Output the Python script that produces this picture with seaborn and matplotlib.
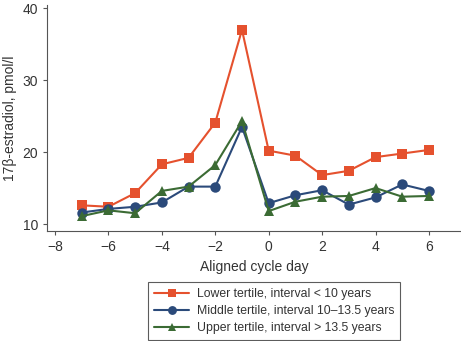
import numpy as np
import pandas as pd
import matplotlib
matplotlib.use("Agg")
import matplotlib.pyplot as plt
import seaborn as sns

days = [-7, -6, -5, -4, -3, -2, -1, 0, 1, 2, 3, 4, 5, 6]
lower = [12.6, 12.4, 14.3, 18.3, 19.2, 24.1, 37.0, 20.2, 19.5, 16.8, 17.4, 19.3, 19.8, 20.3]
middle = [11.6, 12.1, 12.4, 13.0, 15.2, 15.2, 23.5, 12.9, 14.0, 14.7, 12.7, 13.7, 15.5, 14.6]
upper = [11.1, 11.9, 11.5, 14.6, 15.2, 18.2, 24.3, 11.8, 13.1, 13.8, 13.9, 15.0, 13.8, 13.9]
labels = ["Lower tertile, interval < 10 years",
          "Middle tertile, interval 10\u201313.5 years",
          "Upper tertile, interval > 13.5 years"]
xticks = [-8, -6, -4, -2, 0, 2, 4, 6]
yticks = [10, 20, 30, 40]

sns.set_style("ticks")
plt.rcParams['font.family'] = ['Liberation Sans', 'DejaVu Sans']

df = pd.DataFrame({
    "day": days * 3,
    "value": lower + middle + upper,
    "group": [labels[0]] * len(days) + [labels[1]] * len(days) + [labels[2]] * len(days),
})

fig = plt.figure(figsize=(4.61, 3.41), dpi=100)
ax = fig.add_axes([47 / 461, 1 - 231 / 341, 414 / 461, 226 / 341])

colors = ["#E5512E", "#2B4A7A", "#3B6B34"]
markers = ["s", "o", "^"]
sizes = [6.5, 7.5, 7.5]
for lab, c, m, ms in zip(labels, colors, markers, sizes):
    sub = df[df["group"] == lab]
    sns.lineplot(data=sub, x="day", y="value", ax=ax, color=c, marker=m,
                 markersize=ms, markeredgewidth=0, linewidth=1.5, label=lab)

ax.set_xlim(-8.3, 7.2)
ax.set_ylim(9.03, 40.45)
ax.set_xticks(xticks)
ax.set_xticklabels([str(t).replace("-", "\u2212") for t in xticks])
ax.set_yticks(yticks)
ax.tick_params(axis="both", labelsize=10, length=3, width=0.8, color="#555555", labelcolor="#333333")
for s in ["top", "right"]:
    ax.spines[s].set_visible(False)
for s in ["left", "bottom"]:
    ax.spines[s].set_color("#555555")
    ax.spines[s].set_linewidth(0.8)
ax.set_xlabel("Aligned cycle day", fontsize=10, color="#333333", labelpad=4)
ax.set_ylabel("17\u03b2-estradiol, pmol/l", fontsize=10, color="#333333", labelpad=4)

handles, labs = ax.get_legend_handles_labels()
ax.get_legend().remove()
leg = fig.legend(handles, labs, loc="upper center", bbox_to_anchor=(274 / 461, 1 - 282 / 341),
                 fontsize=8.8, frameon=True, fancybox=False, edgecolor="#333333",
                 handlelength=2.9, borderpad=0.5, labelspacing=0.42, handletextpad=0.6,
                 markerscale=0.85, borderaxespad=0)
leg.get_frame().set_linewidth(0.8)
for t in leg.get_texts():
    t.set_color("#333333")

fig.savefig("out.png", dpi=100)
